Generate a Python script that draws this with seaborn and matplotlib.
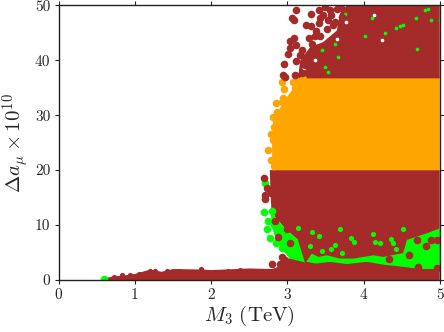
import matplotlib
matplotlib.use("Agg")
import matplotlib.pyplot as plt
import pandas as pd
import seaborn as sns

brown = "#A52A2A"
orange = "#FFA500"
green = "#00FF00"

# filled regions (M3 in TeV, delta a_mu x 10^10)
low_x = [0.6, 0.7, 0.9, 1.0, 1.2, 1.35, 1.5, 1.9, 2.0, 2.5, 2.8, 2.9, 3.03, 3.14, 2.97, 2.84, 2.79, 2.78, 2.77, 5, 5, 0.6]
low_y = [0.3, 0.6, 0.9, 1.1, 1.9, 1.5, 2.0, 1.9, 1.8, 2.1, 2.0, 2.5, 3.9, 7.3, 9.4, 11.5, 13.0, 16, 20, 20, 0, 0]

mid_x = [2.80, 2.80, 2.82, 2.90, 2.98, 3.12, 3.22, 5, 5]
mid_y = [20, 25, 28.5, 31.0, 33.0, 35.7, 37, 37, 20]

top_x = [3.14, 3.17, 3.30, 3.47, 3.65, 3.69, 3.78, 5, 5]
top_y = [36.7, 40.0, 42.4, 43.3, 45.4, 48.5, 50, 50, 36.7]

wedge_x = [2.77, 2.84, 2.97, 3.14, 3.23, 3.03, 2.93, 2.82]
wedge_y = [13.0, 11.5, 9.4, 7.3, 3.2, 3.9, 5.6, 8.5]

strip_x = [3.25, 3.32, 3.41, 3.52, 3.69, 3.87, 4.13, 4.26, 4.52, 4.57, 4.83, 5.0, 5.0, 4.74, 4.52, 4.26, 4.04, 3.78, 3.56, 3.38]
strip_y = [3.3, 4.8, 4.2, 4.5, 3.9, 3.9, 4.5, 4.2, 4.9, 7.3, 8.5, 9.4, 2.0, 2.0, 2.4, 2.8, 3.3, 2.9, 3.3, 3.0]

# single scattered points
green_x = [0.6, 2.71, 2.69, 2.75, 2.73, 2.77, 2.85, 2.93, 2.82, 2.80, 2.90]
green_y = [0.2, 17.6, 12.4, 10.8, 9.3, 7.6, 6.7, 5.8, 10.0, 12.5, 8.0]

# small green patches inside the lower brown band
patch_x = [3.41, 3.32, 3.63, 3.58, 3.84, 3.87, 4.15, 4.22, 4.39, 4.36, 4.13, 4.52, 3.69, 3.14, 3.30, 3.45, 4.42, 3.72]
patch_y = [8.0, 8.8, 6.4, 5.6, 7.6, 6.9, 7.0, 6.7, 6.7, 7.4, 8.4, 9.3, 9.2, 9.4, 6.2, 5.2, 5.6, 4.9]

speck_x = [4.52, 4.43, 4.48, 4.69, 4.02, 4.11, 3.76, 3.67, 3.54, 3.45, 4.70, 4.81, 4.85, 5.0, 4.28, 4.89, 3.62, 3.50]
speck_y = [46.5, 45.9, 46.2, 47.6, 44.5, 47.6, 48.5, 40.6, 37.9, 41.8, 42.1, 49.2, 49.4, 47.3, 45.0, 47.3, 43.0, 38.8]

hole_x = [3.65, 3.77, 4.14, 4.24, 3.36, 3.22]
hole_y = [43.8, 47.0, 48.2, 43.6, 40.0, 38.6]

brown_x = [2.88, 3.03, 2.93, 2.97, 2.90, 2.80, 2.99, 2.84, 4.34, 4.60, 4.72, 4.82, 4.70, 4.89, 4.97, 4.97,
           2.69, 2.73, 2.71, 2.71, 2.78,
           3.12, 3.06, 3.09, 3.31, 3.41, 3.43, 3.41, 3.25, 3.31, 3.56, 3.49, 3.65, 3.54, 3.52, 3.43, 3.36,
           3.09, 3.03, 3.12, 3.03, 3.01, 3.19, 3.32, 3.17, 3.25, 3.12, 2.96, 3.23, 2.95, 2.97, 3.10, 3.19,
           3.60, 3.58, 3.47, 3.38, 3.28, 3.70, 3.62, 3.72]
brown_y = [7.8, 6.8, 4.2, 3.6, 3.0, 3.0, 9.2, 10.8, 3.8, 4.5, 2.4, 6.2, 7.3, 7.2, 7.2, 2.1,
           18.5, 16.7, 15.5, 14.7, 15.8,
           49.1, 47.7, 47.4, 48.5, 49.1, 47.6, 46.7, 46.5, 46.2, 49.1, 49.7, 49.4, 47.3, 45.7, 44.5, 44.4,
           44.1, 43.5, 42.7, 42.2, 41.2, 41.8, 43.0, 40.9, 40.6, 39.8, 39.4, 39.1, 37.4, 37.0, 37.4, 37.7,
           46.4, 48.2, 48.3, 45.3, 44.0, 49.5, 46.9, 47.9]

orange_x = [2.93, 2.96, 3.08, 3.12, 3.10, 3.10, 2.94, 2.85, 2.93, 2.86, 3.03, 2.81, 2.83, 2.78, 2.81, 2.75, 2.79, 2.82,
            3.17, 3.20, 3.06, 3.00, 2.95, 2.90, 2.88, 2.85, 2.84, 3.14]
orange_y = [36.0, 34.8, 36.0, 36.4, 35.0, 33.9, 33.2, 32.2, 32.4, 30.5, 32.4, 29.6, 27.9, 26.5, 25.4, 23.7, 21.8, 20.7,
            35.6, 36.5, 33.2, 31.6, 31.2, 30.0, 28.9, 29.0, 26.4, 34.4]

# bumps along the top of the low strip
bump_x = [0.72, 0.83, 0.94, 1.05, 1.2, 1.27, 1.42, 1.58, 1.73, 1.87, 2.07, 2.22, 2.38, 2.53, 2.68]
bump_y = [0.6, 0.9, 1.0, 1.1, 1.7, 1.7, 1.6, 1.7, 1.5, 2.0, 1.5, 1.7, 1.9, 1.7, 1.7]

x_ticks = [0, 1, 2, 3, 4, 5]
y_ticks = [0, 10, 20, 30, 40, 50]

sns.set_style("ticks")
plt.rcParams["font.family"] = ["cmr10", "DejaVu Serif"]
plt.rcParams["mathtext.fontset"] = "cm"
plt.rcParams["axes.formatter.use_mathtext"] = True

fig = plt.figure(figsize=(4.44, 3.32), dpi=100)
ax = fig.add_axes([58.7 / 444, 52 / 332, 381 / 444, 274.7 / 332])


def dots(xs, ys, color, size=30, edge=0.0):
    d = pd.DataFrame({"m3": xs, "da": ys})
    sns.scatterplot(data=d, x="m3", y="da", color=color, s=size, linewidth=edge, edgecolor="#777744", ax=ax)


ax.fill(low_x, low_y, color=brown, lw=0)
ax.fill(mid_x, mid_y, color=orange, lw=0)
ax.fill(top_x, top_y, color=brown, lw=0)
ax.fill(wedge_x, wedge_y, color=green, lw=0)
ax.fill(strip_x, strip_y, color=green, lw=0)

dots(green_x, green_y, green)
dots(patch_x, patch_y, green, size=14)
dots(speck_x, speck_y, green, size=7)
dots(hole_x, hole_y, "white", size=7)
dots(orange_x, orange_y, orange)
dots(brown_x, brown_y, brown)
dots(bump_x, bump_y, brown, size=14)

ax.set_xlim(0, 5)
ax.set_ylim(0, 50)
ax.set_xticks(x_ticks)
ax.set_yticks(y_ticks)
ax.set_xticklabels([str(t) for t in x_ticks])
ax.set_yticklabels([str(t) for t in y_ticks])
ax.tick_params(axis="both", direction="out", length=3, width=0.8, labelsize=11, pad=3,
               top=True, right=True, color="#222222")
ax.set_xlabel(r"$M_3\ \mathrm{(TeV)}$", fontsize=15, labelpad=1)
ax.set_ylabel(r"$\Delta a_\mu \times 10^{10}$", fontsize=15, labelpad=3)
for s in ax.spines.values():
    s.set_visible(True)
    s.set_linewidth(1.0)
    s.set_color("#222222")

fig.savefig("out.png", dpi=100)
